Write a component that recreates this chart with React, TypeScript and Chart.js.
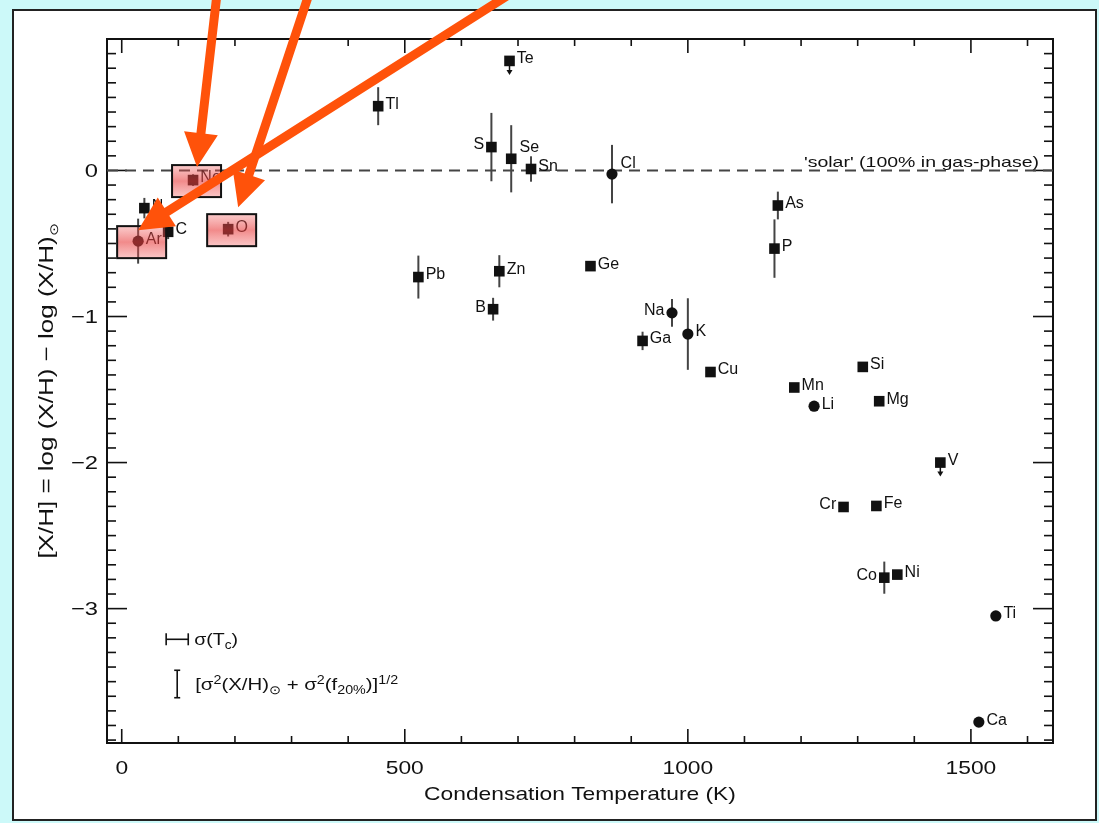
import React, { useEffect, useRef } from 'react';
import { Chart, registerables } from 'chart.js';

Chart.register(...registerables);

// ---- data ----
const elements = ['Te', 'Tl', 'S', 'Se', 'Sn', 'Cl', 'As', 'P', 'Ge', 'Pb', 'Zn', 'B', 'Na', 'K', 'Ga', 'Cu', 'Mn', 'Li', 'Si', 'Mg', 'V', 'Cr', 'Fe', 'Co', 'Ni', 'Ti', 'Ca', 'Ne', 'O', 'Ar', 'N', 'C'];
const condensationTemp = [685, 453, 653, 688, 723, 866, 1159, 1153, 828, 524, 667, 656, 972, 1000, 920, 1040, 1188, 1223, 1309, 1338, 1446, 1275, 1333, 1347, 1370, 1544, 1514, 126, 188, 29, 40, 82];
const depletion = [0.75, 0.44, 0.16, 0.08, 0.01, -0.025, -0.24, -0.535, -0.655, -0.73, -0.69, -0.95, -0.975, -1.12, -1.167, -1.38, -1.486, -1.614, -1.345, -1.58, -2.0, -2.304, -2.297, -2.788, -2.767, -3.05, -3.777, -0.066, -0.402, -0.484, -0.258, -0.42];
const errorBar = [0, 0.13, 0.234, 0.23, 0.087, 0.2, 0.095, 0.2, 0, 0.147, 0.11, 0.078, 0.095, 0.245, 0.063, 0, 0, 0, 0, 0, 0, 0, 0, 0.11, 0, 0, 0, 0.04, 0.05, 0.154, 0.07, 0.05];
const circleElements = ['Cl', 'Na', 'K', 'Li', 'Ti', 'Ca', 'Ar'];
const upperLimitElements = ['Te', 'V'];
const leftLabelElements = ['S', 'B', 'Na', 'Cr', 'Co'];
const upperRightLabelElements = ['Se', 'Cl'];
const highlightedElements = ['Ne', 'O', 'Ar'];
const xTickLabels = [0, 500, 1000, 1500];
const yTickLabels = [0, -1, -2, -3];
const solarLevel = 0;
const sigmaTcHalfWidth = 19.5; // K
const sigmaXhHalf = 0.094; // dex
const legendSymbolX = 98;
const legendRowY = [-3.21, -3.516];

const X_MIN = -26, X_MAX = 1645, Y_MIN = -3.92, Y_MAX = 0.9;
const FONT = '"Liberation Sans", Arial, sans-serif';
const INK = '#111';

type Seg = { t: string; s?: 'sub' | 'sup' };

function drawRich(ctx: CanvasRenderingContext2D, segs: Seg[], x: number, y: number, size: number, sx: number, align: 'left' | 'center' | 'right', subScale = 0.62) {
  ctx.save();
  ctx.textAlign = 'left';
  ctx.textBaseline = 'alphabetic';
  let total = 0;
  const widths = segs.map((s) => {
    const fs = s.s ? size * subScale : size;
    ctx.font = `${fs}px ${FONT}`;
    const w = ctx.measureText(s.t).width * sx;
    total += w;
    return w;
  });
  let cx = align === 'center' ? x - total / 2 : align === 'right' ? x - total : x;
  segs.forEach((s, i) => {
    const fs = s.s ? size * subScale : size;
    ctx.font = `${fs}px ${FONT}`;
    const dy = s.s === 'sup' ? -size * 0.38 : s.s === 'sub' ? size * 0.24 : 0;
    ctx.save();
    ctx.translate(cx, y + dy);
    ctx.scale(sx, 1);
    ctx.fillText(s.t, 0, 0);
    ctx.restore();
    cx += widths[i];
  });
  ctx.restore();
}

function line(ctx: CanvasRenderingContext2D, x1: number, y1: number, x2: number, y2: number) {
  ctx.beginPath();
  ctx.moveTo(x1, y1);
  ctx.lineTo(x2, y2);
  ctx.stroke();
}

function drawArrow(ctx: CanvasRenderingContext2D, tx: number, ty: number, hx: number, hy: number) {
  const dx = hx - tx, dy = hy - ty;
  const len = Math.hypot(dx, dy);
  const ux = dx / len, uy = dy / len;
  const nx = -uy, ny = ux;
  const headL = 34, headW = 17, shaftW = 4.5;
  const bx = hx - ux * headL, by = hy - uy * headL;
  ctx.save();
  ctx.fillStyle = '#ff520a';
  ctx.beginPath();
  ctx.moveTo(tx + nx * shaftW, ty + ny * shaftW);
  ctx.lineTo(bx + nx * shaftW, by + ny * shaftW);
  ctx.lineTo(bx + nx * headW, by + ny * headW);
  ctx.lineTo(hx, hy);
  ctx.lineTo(bx - nx * headW, by - ny * headW);
  ctx.lineTo(bx - nx * shaftW, by - ny * shaftW);
  ctx.lineTo(tx - nx * shaftW, ty - ny * shaftW);
  ctx.closePath();
  ctx.fill();
  ctx.restore();
}

const isCircle = (el: string) => circleElements.includes(el);

const figurePlugin = {
  id: 'figurePlugin',
  beforeDraw(chart: any) {
    const { ctx, width, height } = chart;
    ctx.save();
    ctx.fillStyle = '#ccf9f9';
    ctx.fillRect(0, 0, width, height);
    ctx.fillStyle = '#ffffff';
    ctx.fillRect(13, 10, 1083, 810);
    ctx.strokeStyle = '#222';
    ctx.lineWidth = 2;
    ctx.strokeRect(13, 10, 1083, 810);
    ctx.restore();
  },
  beforeDatasetsDraw(chart: any) {
    const { ctx, chartArea: { left, right, top, bottom }, scales: { x, y } } = chart;
    ctx.save();
    // axes box
    ctx.strokeStyle = INK;
    ctx.lineWidth = 2;
    ctx.strokeRect(left, top, right - left, bottom - top);
    // x ticks (inward, mirrored)
    ctx.lineWidth = 1.6;
    for (let v = 0; v <= 1600; v += 100) {
      const px = x.getPixelForValue(v);
      const L = v % 500 === 0 ? 14 : 7;
      line(ctx, px, bottom, px, bottom - L);
      line(ctx, px, top, px, top + L);
    }
    // y ticks
    for (let i = -39; i <= 8; i++) {
      const py = y.getPixelForValue(i / 10);
      const L = i % 10 === 0 ? 20 : 9;
      line(ctx, left, py, left + L, py);
      line(ctx, right, py, right - L, py);
    }
    // tick labels
    ctx.fillStyle = INK;
    xTickLabels.forEach((v) => {
      drawRich(ctx, [{ t: String(v) }], x.getPixelForValue(v), bottom + 24 + 19 * 0.36, 19, 1.2, 'center');
    });
    yTickLabels.forEach((v) => {
      const t = v < 0 ? '\u2212' + Math.abs(v) : String(v);
      drawRich(ctx, [{ t }], left - 9, y.getPixelForValue(v) + 19 * 0.36, 19, 1.25, 'right');
    });
    // axis titles
    drawRich(ctx, [{ t: 'Condensation Temperature (K)' }], (left + right) / 2, 793 + 19 * 0.36, 19, 1.2, 'center');
    ctx.save();
    ctx.translate(46, (top + bottom) / 2);
    ctx.rotate(-Math.PI / 2);
    drawRich(ctx, [{ t: '[X/H] = log (X/H) \u2212 log (X/H)' }, { t: '\u2299', s: 'sub' }], 0, 20 * 0.36, 20, 1.3, 'center');
    ctx.restore();
    // solar label
    drawRich(ctx, [{ t: "'solar' (100% in gas-phase)" }], right - 14, y.getPixelForValue(solarLevel) - 3, 15, 1.3, 'right');

    // error bars
    ctx.strokeStyle = '#444';
    ctx.lineWidth = 2;
    elements.forEach((el, i) => {
      if (!errorBar[i]) return;
      const px = x.getPixelForValue(condensationTemp[i]);
      line(ctx, px, y.getPixelForValue(depletion[i] + errorBar[i]), px, y.getPixelForValue(depletion[i] - errorBar[i]));
    });
    // upper limit arrows
    ctx.strokeStyle = INK;
    ctx.fillStyle = INK;
    ctx.lineWidth = 1.5;
    elements.forEach((el, i) => {
      if (!upperLimitElements.includes(el)) return;
      const px = x.getPixelForValue(condensationTemp[i]);
      const py = y.getPixelForValue(depletion[i]);
      line(ctx, px, py, px, py + 10);
      ctx.beginPath();
      ctx.moveTo(px - 3, py + 9);
      ctx.lineTo(px + 3, py + 9);
      ctx.lineTo(px, py + 14);
      ctx.closePath();
      ctx.fill();
    });

    // legend symbols
    const lx = x.getPixelForValue(legendSymbolX);
    const ly1 = y.getPixelForValue(legendRowY[0]);
    const hx1 = x.getPixelForValue(legendSymbolX - sigmaTcHalfWidth);
    const hx2 = x.getPixelForValue(legendSymbolX + sigmaTcHalfWidth);
    ctx.strokeStyle = INK;
    ctx.lineWidth = 1.6;
    line(ctx, hx1, ly1, hx2, ly1);
    line(ctx, hx1, ly1 - 6, hx1, ly1 + 6);
    line(ctx, hx2, ly1 - 6, hx2, ly1 + 6);
    const ly2 = y.getPixelForValue(legendRowY[1]);
    const vy1 = y.getPixelForValue(legendRowY[1] + sigmaXhHalf);
    const vy2 = y.getPixelForValue(legendRowY[1] - sigmaXhHalf);
    line(ctx, lx, vy1, lx, vy2);
    line(ctx, lx - 3, vy1, lx + 3, vy1);
    line(ctx, lx - 3, vy2, lx + 3, vy2);
    ctx.fillStyle = INK;
    drawRich(ctx, [{ t: '\u03c3(T' }, { t: 'c', s: 'sub' }, { t: ')' }], hx2 + 6, ly1 + 17 * 0.36, 17, 1.15, 'left', 0.7);
    drawRich(ctx, [
      { t: '[\u03c3' }, { t: '2', s: 'sup' }, { t: '(X/H)' }, { t: '\u2299', s: 'sub' },
      { t: ' + \u03c3' }, { t: '2', s: 'sup' }, { t: '(f' }, { t: '20%', s: 'sub' }, { t: ')]' }, { t: '1/2', s: 'sup' },
    ], lx + 18, ly2 + 17 * 0.36, 17, 1.2, 'left', 0.7);
    ctx.restore();
  },
  afterDatasetsDraw(chart: any) {
    const { ctx, scales: { x, y } } = chart;
    ctx.save();
    ctx.fillStyle = INK;
    ctx.font = `16px ${FONT}`;
    ctx.textBaseline = 'middle';
    elements.forEach((el, i) => {
      const px = x.getPixelForValue(condensationTemp[i]);
      const py = y.getPixelForValue(depletion[i]);
      const hs = isCircle(el) ? 5.6 : 5.3;
      if (leftLabelElements.includes(el)) {
        ctx.textAlign = 'right';
        ctx.fillText(el, px - hs - 2, py - 2);
      } else if (upperRightLabelElements.includes(el)) {
        ctx.textAlign = 'left';
        ctx.fillText(el, px + hs + 3, py - 11);
      } else {
        ctx.textAlign = 'left';
        ctx.fillText(el, px + hs + 2, py - 2);
      }
    });
    // highlight boxes
    elements.forEach((el, i) => {
      if (!highlightedElements.includes(el)) return;
      const px = x.getPixelForValue(condensationTemp[i]);
      const py = y.getPixelForValue(depletion[i]);
      const bx = px - 21, by = py - 15, bw = 49, bh = 32;
      const g = ctx.createLinearGradient(0, by, 0, by + bh);
      g.addColorStop(0, 'rgba(240,90,90,0.32)');
      g.addColorStop(0.5, 'rgba(232,60,60,0.6)');
      g.addColorStop(1, 'rgba(240,90,90,0.35)');
      ctx.fillStyle = g;
      ctx.fillRect(bx, by, bw, bh);
      ctx.strokeStyle = '#111';
      ctx.lineWidth = 2;
      ctx.strokeRect(bx, by, bw, bh);
    });
    // orange arrows pointing at the highlighted elements
    const tip = (el: string, dx: number, dy: number) => {
      const i = elements.indexOf(el);
      return [x.getPixelForValue(condensationTemp[i]) + dx, y.getPixelForValue(depletion[i]) + dy];
    };
    const [neX, neY] = tip('Ne', 4, -13);
    const [oX, oY] = tip('O', 10, -22);
    const [arX, arY] = tip('Ar', 0, -11);
    drawArrow(ctx, 217, -6, neX, neY);
    drawArrow(ctx, 309, -6, oX, oY);
    drawArrow(ctx, 510, -6, arX, arY);
    ctx.restore();
  },
};

export default function App() {
  const ref = useRef<HTMLCanvasElement>(null);
  useEffect(() => {
    const canvas = ref.current;
    if (!canvas) return;
    const points = elements.map((el, i) => ({ x: condensationTemp[i], y: depletion[i] }));
    const chart = new Chart(canvas, {
      type: 'scatter',
      data: {
        datasets: [
          {
            label: 'elements',
            data: points,
            pointStyle: elements.map((el) => (isCircle(el) ? 'circle' : 'rect')) as any,
            pointRadius: elements.map((el) => (isCircle(el) ? 5.6 : 7.5)),
            backgroundColor: INK,
            borderWidth: 0,
            order: 1,
          },
          {
            type: 'line',
            label: 'solar',
            data: [{ x: X_MIN, y: solarLevel }, { x: X_MAX, y: solarLevel }],
            borderColor: '#444',
            borderWidth: 2,
            borderDash: [11, 7],
            pointRadius: 0,
            order: 2,
          } as any,
        ],
      },
      options: {
        responsive: false,
        maintainAspectRatio: false,
        devicePixelRatio: 1,
        animation: false,
        layout: { padding: { left: 107, top: 39, right: 46, bottom: 80 } },
        plugins: { legend: { display: false }, tooltip: { enabled: false } },
        scales: {
          x: { type: 'linear', display: false, min: X_MIN, max: X_MAX },
          y: { type: 'linear', display: false, min: Y_MIN, max: Y_MAX },
        },
      },
      plugins: [figurePlugin],
    });
    return () => chart.destroy();
  }, []);
  return (
    <div style={{ position: 'fixed', left: 0, top: 0, width: 1099, height: 823 }}>
      <canvas ref={ref} width={1099} height={823} style={{ display: 'block', width: 1099, height: 823 }} />
    </div>
  );
}
